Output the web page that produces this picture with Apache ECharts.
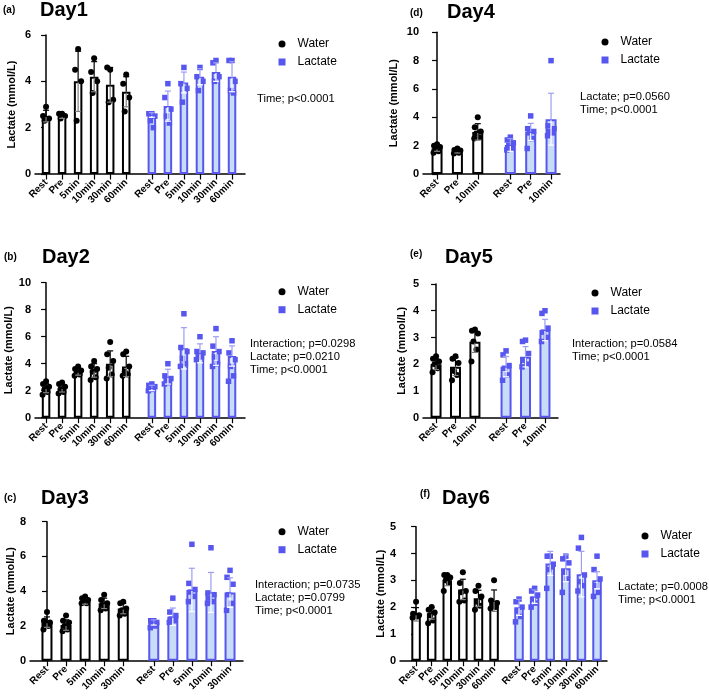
<!DOCTYPE html>
<html>
<head>
<meta charset="utf-8">
<script src="https://cdn.jsdelivr.net/npm/echarts@6/dist/echarts.min.js"></script>
<style>
  html, body { margin: 0; padding: 0; background: #fff; }
  #chart { width: 709px; height: 697px; }
</style>
</head>
<body>
<div id="chart"></div>
<script>
// values (mean, SD and single points, mmol/L)
const times6 = ['Rest', 'Pre', '5min', '10min', '30min', '60min'];
const times5 = ['Rest', 'Pre', '5min', '10min', '30min'];
const times3 = ['Rest', 'Pre', '10min'];

const day1WaterMean = [2.5, 2.5, 4.0, 4.2, 3.85, 3.55];
const day1WaterSD = [0.25, 0.1, 1.3, 0.65, 0.75, 0.65];
const day1WaterPts = [[2.9, 2.5, 2.4, 2.3], [2.6, 2.6, 2.5, 2.4], [5.4, 4.5, 4.0, 2.3], [5.0, 4.4, 4.0, 3.5], [4.5, 4.6, 3.2, 3.1], [4.3, 3.9, 3.3, 2.7]];
const day1LacMean = [2.55, 2.93, 3.95, 4.2, 4.4, 4.2];
const day1LacSD = [0.1, 0.65, 0.45, 0.35, 0.4, 0.65];
const day1LacPts = [[2.6, 2.6, 2.5, 2.3, 2.0], [3.9, 3.3, 2.8, 2.5, 2.2], [4.6, 3.9, 3.7, 3.1], [4.6, 4.2, 4.0, 3.6], [4.9, 4.8, 4.2, 4.0], [4.9, 4.9, 4.0, 3.6, 3.5]];
const day1Stats = ['Time; p<0.0001'];

const day2WaterMean = [2.2, 2.2, 3.4, 3.5, 4.0, 3.8];
const day2WaterSD = [0.35, 0.3, 0.25, 0.5, 0.95, 0.75];
const day2WaterPts = [[2.7, 2.5, 2.3, 2.1, 1.9, 1.7], [2.6, 2.5, 2.3, 2.1, 1.9, 1.8], [3.8, 3.6, 3.5, 3.3, 3.2, 3.1], [4.2, 3.8, 3.6, 3.4, 3.0, 2.8], [5.6, 4.7, 4.2, 3.7, 3.2, 2.9], [4.9, 4.7, 3.8, 3.4, 3.2, 3.1]];
const day2LacMean = [2.2, 3.04, 5.14, 4.77, 4.94, 4.57];
const day2LacSD = [0.2, 0.55, 1.53, 0.7, 1.06, 0.75];
const day2LacPts = [[2.5, 2.4, 2.3, 2.2, 2.1, 2.0], [4.0, 3.1, 2.9, 2.7, 2.6, 2.5], [7.7, 5.2, 4.9, 4.4, 4.0, 3.8], [6.0, 4.9, 4.8, 4.6, 4.5, 4.3], [6.6, 5.3, 4.9, 4.5, 4.0, 3.8], [5.7, 4.8, 4.3, 3.8, 3.1, 2.7]];
const day2Stats = ['Interaction; p=0.0298', 'Lactate; p=0.0210', 'Time; p<0.0001'];

const day3WaterMean = [2.22, 2.05, 3.4, 3.3, 3.0];
const day3WaterSD = [0.3, 0.3, 0.15, 0.3, 0.3];
const day3WaterPts = [[2.8, 2.3, 2.2, 2.1, 2.0, 1.8], [2.6, 2.3, 2.2, 2.0, 1.8, 1.7], [3.7, 3.6, 3.5, 3.4, 3.3, 3.3], [3.8, 3.5, 3.3, 3.2, 3.0, 2.9], [3.4, 3.3, 3.0, 2.9, 2.7, 2.6]];
const day3LacMean = [2.2, 2.53, 4.07, 3.93, 3.92];
const day3LacSD = [0.15, 0.5, 1.25, 1.15, 0.85];
const day3LacPts = [[2.3, 2.3, 2.2, 2.1, 2.0, 1.9], [3.6, 2.8, 2.6, 2.4, 2.3, 2.2], [6.7, 4.45, 4.1, 3.95, 3.7, 3.4], [6.5, 3.9, 3.8, 3.6, 3.4, 3.3], [5.2, 4.8, 4.4, 3.8, 3.3, 2.9]];
const day3Stats = ['Interaction; p=0.0735', 'Lactate; p=0.0799', 'Time; p<0.0001'];

const day4WaterMean = [1.8, 1.6, 2.97];
const day4WaterSD = [0.2, 0.12, 0.58];
const day4WaterPts = [[2.1, 2.0, 1.9, 1.8, 1.6, 1.5], [1.8, 1.7, 1.65, 1.6, 1.5, 1.45], [4.0, 3.3, 3.0, 2.85, 2.6, 2.5]];
const day4LacMean = [2.05, 2.97, 3.87];
const day4LacSD = [0.45, 0.6, 1.83];
const day4LacPts = [[2.6, 2.4, 2.2, 2.0, 1.8, 1.7], [4.1, 3.2, 3.0, 2.9, 2.5, 1.8], [8.0, 3.4, 3.2, 3.0, 2.9, 2.7]];
const day4Stats = ['Lactate; p=0.0560', 'Time; p<0.0001'];

const day5WaterMean = [2.0, 1.91, 2.84];
const day5WaterSD = [0.2, 0.33, 0.4];
const day5WaterPts = [[2.3, 2.2, 2.1, 2.0, 1.85, 1.7], [2.3, 2.2, 2.05, 1.75, 1.6, 1.4], [3.3, 3.25, 3.15, 2.85, 2.55, 2.1]];
const day5LacMean = [1.91, 2.28, 3.28];
const day5LacSD = [0.38, 0.38, 0.4];
const day5LacPts = [[2.5, 2.35, 1.95, 1.85, 1.6, 1.4], [2.9, 2.85, 2.4, 2.15, 2.0, 1.9], [4.0, 3.9, 3.35, 3.2, 3.0, 2.85]];
const day5Stats = ['Interaction; p=0.0584', 'Time; p<0.0001'];

const day6WaterMean = [1.73, 1.77, 3.0, 2.66, 2.33, 2.24];
const day6WaterSD = [0.25, 0.22, 0.2, 0.38, 0.3, 0.4];
const day6WaterPts = [[2.2, 1.75, 1.7, 1.7, 1.65, 1.6], [2.0, 1.9, 1.8, 1.7, 1.5, 1.4], [3.2, 3.2, 3.1, 3.0, 2.9, 2.6], [3.3, 2.9, 2.6, 2.55, 2.25, 2.2], [2.8, 2.6, 2.4, 2.2, 2.05, 1.9], [3.0, 2.25, 2.15, 2.1, 2.0, 1.95]];
const day6LacMean = [1.99, 2.39, 3.63, 3.45, 3.23, 3.0];
const day6LacSD = [0.3, 0.25, 0.45, 0.5, 0.85, 0.32];
const day6LacPts = [[2.3, 2.2, 2.0, 1.85, 1.65, 1.45], [2.7, 2.6, 2.45, 2.3, 2.15, 2.0], [3.9, 3.9, 3.6, 3.4, 3.5, 2.7], [3.9, 3.8, 3.65, 3.3, 3.05, 2.55], [4.6, 4.2, 3.2, 2.95, 2.8, 2.6], [3.9, 3.4, 3.05, 2.8, 2.55, 2.4]];
const day6Stats = ['Lactate; p=0.0008', 'Time; p<0.0001'];

// ---- layout ----
const FONT = 'Liberation Sans, Arial, Helvetica, sans-serif';
const LAC = '#5757ef';
const LAC_FILL = '#c8dbf7';
const GAP = 1.6; // space between the two groups, in bar slots
const JIT = [0, -3, 3, -1.5, 1.5, -3.5, 3.5];

const panels = [
  { tag: '(a)', title: 'Day1', times: times6, wm: day1WaterMean, ws: day1WaterSD, wp: day1WaterPts, lm: day1LacMean, ls: day1LacSD, lp: day1LacPts, stats: day1Stats,
    grid: { left: 35, top: 35, width: 210, height: 139 }, yMax: 6, yInt: 2, padL: 0.69, padR: 0.81, barW: 8.5, nameGap: 17.5,
    tagAt: [3, 10], headAt: [40, 10.5], legAt: [282, 44], statsAt: [257, 99] },
  { tag: '(b)', title: 'Day2', times: times6, wm: day2WaterMean, ws: day2WaterSD, wp: day2WaterPts, lm: day2LacMean, ls: day2LacSD, lp: day2LacPts, stats: day2Stats,
    grid: { left: 35, top: 282.7, width: 210, height: 135 }, yMax: 10, yInt: 2, padL: 0.69, padR: 0.81, barW: 8.5, nameGap: 20.5,
    tagAt: [4, 257], headAt: [42, 257], legAt: [282, 291.7], statsAt: [250, 344] },
  { tag: '(c)', title: 'Day3', times: times5, wm: day3WaterMean, ws: day3WaterSD, wp: day3WaterPts, lm: day3LacMean, ls: day3LacSD, lp: day3LacPts, stats: day3Stats,
    grid: { left: 30, top: 521.7, width: 213, height: 139 }, yMax: 8, yInt: 2, padL: 0.89, padR: 0.68, barW: 11, nameGap: 13.5,
    tagAt: [4, 498], headAt: [41, 498], legAt: [282, 531.7], statsAt: [255, 585] },
  { tag: '(d)', title: 'Day4', times: times3, wm: day4WaterMean, ws: day4WaterSD, wp: day4WaterPts, lm: day4LacMean, ls: day4LacSD, lp: day4LacPts, stats: day4Stats,
    grid: { left: 423, top: 32.3, width: 137, height: 141.7 }, yMax: 10, yInt: 2, padL: 0.69, padR: 0.44, barW: 11, nameGap: 24,
    tagAt: [410, 13], headAt: [447, 12.5], legAt: [605, 42], statsAt: [580, 97] },
  { tag: '(e)', title: 'Day5', times: times3, wm: day5WaterMean, ws: day5WaterSD, wp: day5WaterPts, lm: day5LacMean, ls: day5LacSD, lp: day5LacPts, stats: day5Stats,
    grid: { left: 423, top: 284, width: 135, height: 133.7 }, yMax: 5, yInt: 1, padL: 0.67, padR: 0.67, barW: 11, nameGap: 16,
    tagAt: [410, 254], headAt: [445, 257], legAt: [595, 293], statsAt: [572, 344] },
  { tag: '(f)', title: 'Day6', times: times6, wm: day6WaterMean, ws: day6WaterSD, wp: day6WaterPts, lm: day6LacMean, ls: day6LacSD, lp: day6LacPts, stats: day6Stats,
    grid: { left: 400, top: 526.7, width: 207, height: 134 }, yMax: 5, yInt: 1, padL: 1.03, padR: 0.64, barW: 9.5, nameGap: 11.5,
    tagAt: [420, 494], headAt: [442, 498], legAt: [645, 536], statsAt: [618, 587] }
];

const grids = [], xAxes = [], yAxes = [], series = [], titles = [], legends = [];

function errorItem(params, api) {
  const x = api.value(0), m = api.value(1), s = api.value(2), lac = api.value(3);
  const top = api.coord([x, m + s]);
  const mid = api.coord([x, m]);
  const bot = api.coord([x, m - s]);
  const cap = 3;
  const up = { stroke: lac ? '#9d9df4' : '#000', lineWidth: 1.2 };
  const low = { stroke: lac ? '#ffffff' : '#808080', lineWidth: 1.2 };
  return {
    type: 'group',
    children: [
      { type: 'line', shape: { x1: mid[0], y1: mid[1], x2: top[0], y2: top[1] }, style: up },
      { type: 'line', shape: { x1: top[0] - cap, y1: top[1], x2: top[0] + cap, y2: top[1] }, style: up },
      { type: 'line', shape: { x1: mid[0], y1: mid[1] + 1, x2: bot[0], y2: bot[1] }, style: low },
      { type: 'line', shape: { x1: bot[0] - cap, y1: bot[1], x2: bot[0] + cap, y2: bot[1] }, style: low }
    ]
  };
}

panels.forEach((p, k) => {
  const n = p.times.length;
  const waterX = p.times.map((t, i) => i);
  const lacX = p.times.map((t, i) => n - 1 + GAP + i);
  const allX = waterX.concat(lacX);
  const allLabels = p.times.concat(p.times);

  grids.push(Object.assign({ containLabel: false, outerBoundsMode: 'none' }, p.grid));

  xAxes.push({
    type: 'value', gridIndex: k,
    min: -p.padL, max: lacX[n - 1] + p.padR,
    splitLine: { show: false },
    axisLine: { show: true, onZero: false, lineStyle: { color: '#000', width: 1.5 } },
    axisTick: { show: true, customValues: allX, length: 5.5, lineStyle: { color: '#000', width: 1.2 } },
    axisLabel: {
      customValues: allX, rotate: 45, margin: 7,
      fontFamily: FONT, fontSize: 10, fontWeight: 'bold', color: '#000',
      formatter: v => {
        const i = allX.findIndex(x => Math.abs(x - v) < 1e-6);
        return i < 0 ? '' : allLabels[i];
      }
    }
  });

  yAxes.push({
    type: 'value', gridIndex: k, min: 0, max: p.yMax, interval: p.yInt,
    name: 'Lactate (mmol/L)', nameLocation: 'middle', nameGap: p.nameGap,
    nameTextStyle: { fontFamily: FONT, fontSize: 11, fontWeight: 'bold', color: '#000' },
    splitLine: { show: false },
    axisLine: { show: true, lineStyle: { color: '#000', width: 1.5 } },
    axisTick: { show: true, length: 5, lineStyle: { color: '#000', width: 1.2 } },
    axisLabel: { fontFamily: FONT, fontSize: 11, fontWeight: 'bold', color: '#000', margin: 4 }
  });

  const barData = waterX.map((x, i) => ({ value: [x, p.wm[i]], itemStyle: { color: '#fff', borderColor: '#000', borderWidth: 2 } }))
    .concat(lacX.map((x, i) => ({ value: [x, p.lm[i]], itemStyle: { color: LAC_FILL, borderColor: LAC, borderWidth: 2 } })));

  series.push({
    name: 'bars' + k, type: 'bar', xAxisIndex: k, yAxisIndex: k,
    barWidth: p.barW, data: barData, silent: true, z: 2
  });

  const pts = (xs, groups) => {
    const out = [];
    groups.forEach((g, i) => g.forEach((v, j) => out.push({ value: [xs[i], v], symbolOffset: [JIT[j % JIT.length], 0] })));
    return out;
  };

  series.push({
    name: 'Water', type: 'scatter', xAxisIndex: k, yAxisIndex: k,
    symbol: 'circle', symbolSize: 6, itemStyle: { color: '#000', opacity: 1 },
    data: pts(waterX, p.wp), z: 3, silent: true
  });
  series.push({
    name: 'Lactate', type: 'scatter', xAxisIndex: k, yAxisIndex: k,
    symbol: 'rect', symbolSize: 5.5, itemStyle: { color: LAC, opacity: 1 },
    data: pts(lacX, p.lp), z: 3, silent: true
  });

  const errData = waterX.map((x, i) => [x, p.wm[i], p.ws[i], 0])
    .concat(lacX.map((x, i) => [x, p.lm[i], p.ls[i], 1]));
  series.push({
    name: 'err' + k, type: 'custom', xAxisIndex: k, yAxisIndex: k,
    renderItem: errorItem, data: errData, encode: { x: 0, y: 1 }, z: 4, silent: true, clip: false
  });

  titles.push({ text: p.tag, left: p.tagAt[0], top: p.tagAt[1] - 6, padding: 0,
    textStyle: { fontFamily: FONT, fontSize: 10, fontWeight: 'bold', color: '#000', lineHeight: 12 } });
  titles.push({ text: p.title, left: p.headAt[0], top: p.headAt[1] - 11, padding: 0,
    textStyle: { fontFamily: FONT, fontSize: 20, fontWeight: 'bold', color: '#000', lineHeight: 22 } });
  titles.push({ text: p.stats.join('\n'), left: p.statsAt[0], top: p.statsAt[1] - 6.5, padding: 0,
    textStyle: { fontFamily: FONT, fontSize: 11.2, fontWeight: 'normal', color: '#000', lineHeight: 13 } });

  legends.push({
    orient: 'vertical', left: p.legAt[0] - 3.5, top: p.legAt[1] - 7, padding: 0,
    itemWidth: 7, itemHeight: 7, itemGap: 4, selectedMode: false,
    data: [{ name: 'Water', icon: 'circle' }, { name: 'Lactate', icon: 'rect' }],
    textStyle: { fontFamily: FONT, fontSize: 12, color: '#000', lineHeight: 14, padding: [0, 0, 0, 7] }
  });
});

const chart = echarts.init(document.getElementById('chart'), null, { renderer: 'canvas' });
chart.setOption({
  backgroundColor: '#fff',
  animation: false,
  title: titles,
  legend: legends,
  grid: grids,
  xAxis: xAxes,
  yAxis: yAxes,
  series: series
});
</script>
</body>
</html>
